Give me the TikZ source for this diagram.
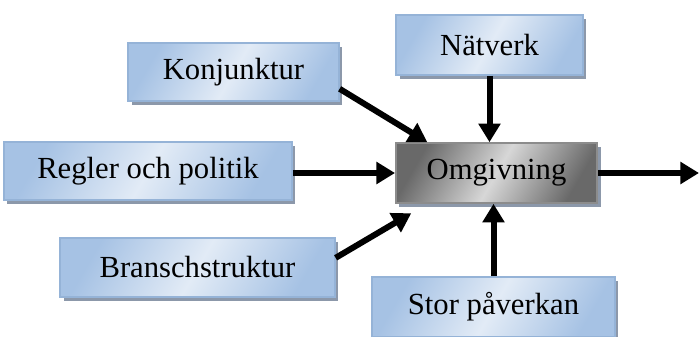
\documentclass[tikz,border=0pt]{standalone}
\usepackage{fontspec}
\setmainfont{Liberation Serif}
\usetikzlibrary{arrows.meta,shadows}

\definecolor{blakant}{RGB}{149,179,215}
\definecolor{blamork}{RGB}{166,194,228}
\definecolor{baljus}{RGB}{226,235,246}
\definecolor{grakant}{RGB}{140,140,140}
\definecolor{gramork}{RGB}{105,105,105}
\definecolor{graljus}{RGB}{215,215,215}
\definecolor{skugga}{RGB}{140,152,170}

\tikzset{
  ruta/.style={rectangle, draw, line width=1.2pt, inner sep=0pt,
    font=\fontsize{23}{27}\selectfont,
    drop shadow={shadow xshift=2.5pt, shadow yshift=-3pt, fill=skugga, opacity=1}},
  blaruta/.style={ruta, draw=blakant, left color=blamork, right color=blamork,
    middle color=baljus, shading angle=60},
  graruta/.style={ruta, draw=grakant, left color=gramork, right color=gramork,
    middle color=graljus, shading angle=60},
  pil/.style={line width=4.5pt, -{Triangle[length=14pt,width=16pt]}},
}

\begin{document}
\begin{tikzpicture}[x=0.75pt,y=0.75pt,yscale=-1,xscale=1]
\useasboundingbox (0,0) rectangle (700,336);

% rutor
\node [blaruta, minimum width=158pt, minimum height=43.5pt] (konj) at (233.5,72) {Konjunktur};
\node [blaruta, minimum width=216pt, minimum height=43.5pt] (regler) at (148,171) {Regler och politik};
\node [blaruta, minimum width=206pt, minimum height=44pt] (bransch) at (197.5,267.5) {Branschstruktur};
\node [blaruta, minimum width=140pt, minimum height=45pt] (natverk) at (489.5,45) {Nätverk};
\node [graruta, minimum width=151pt, minimum height=45pt] (omg) at (496.5,173) {Omgivning};
\node [blaruta, minimum width=182pt, minimum height=45pt] (stor) at (493.5,307) {Stor påverkan};
\coordinate (ut) at (699,173);

% pilar
\draw [pil] (konj.-9) -- (omg.156);
\draw [pil] (regler.east |- omg.west) -- (omg.west);
\draw [pil, shorten >=14pt] (bransch.4) -- (omg.204);
\draw [pil] (natverk.south) -- (natverk.south |- omg.north);
\draw [pil] (stor.north) -- (stor.north |- omg.south);
\draw [pil] (omg.east) -- (ut);

\end{tikzpicture}
\end{document}
